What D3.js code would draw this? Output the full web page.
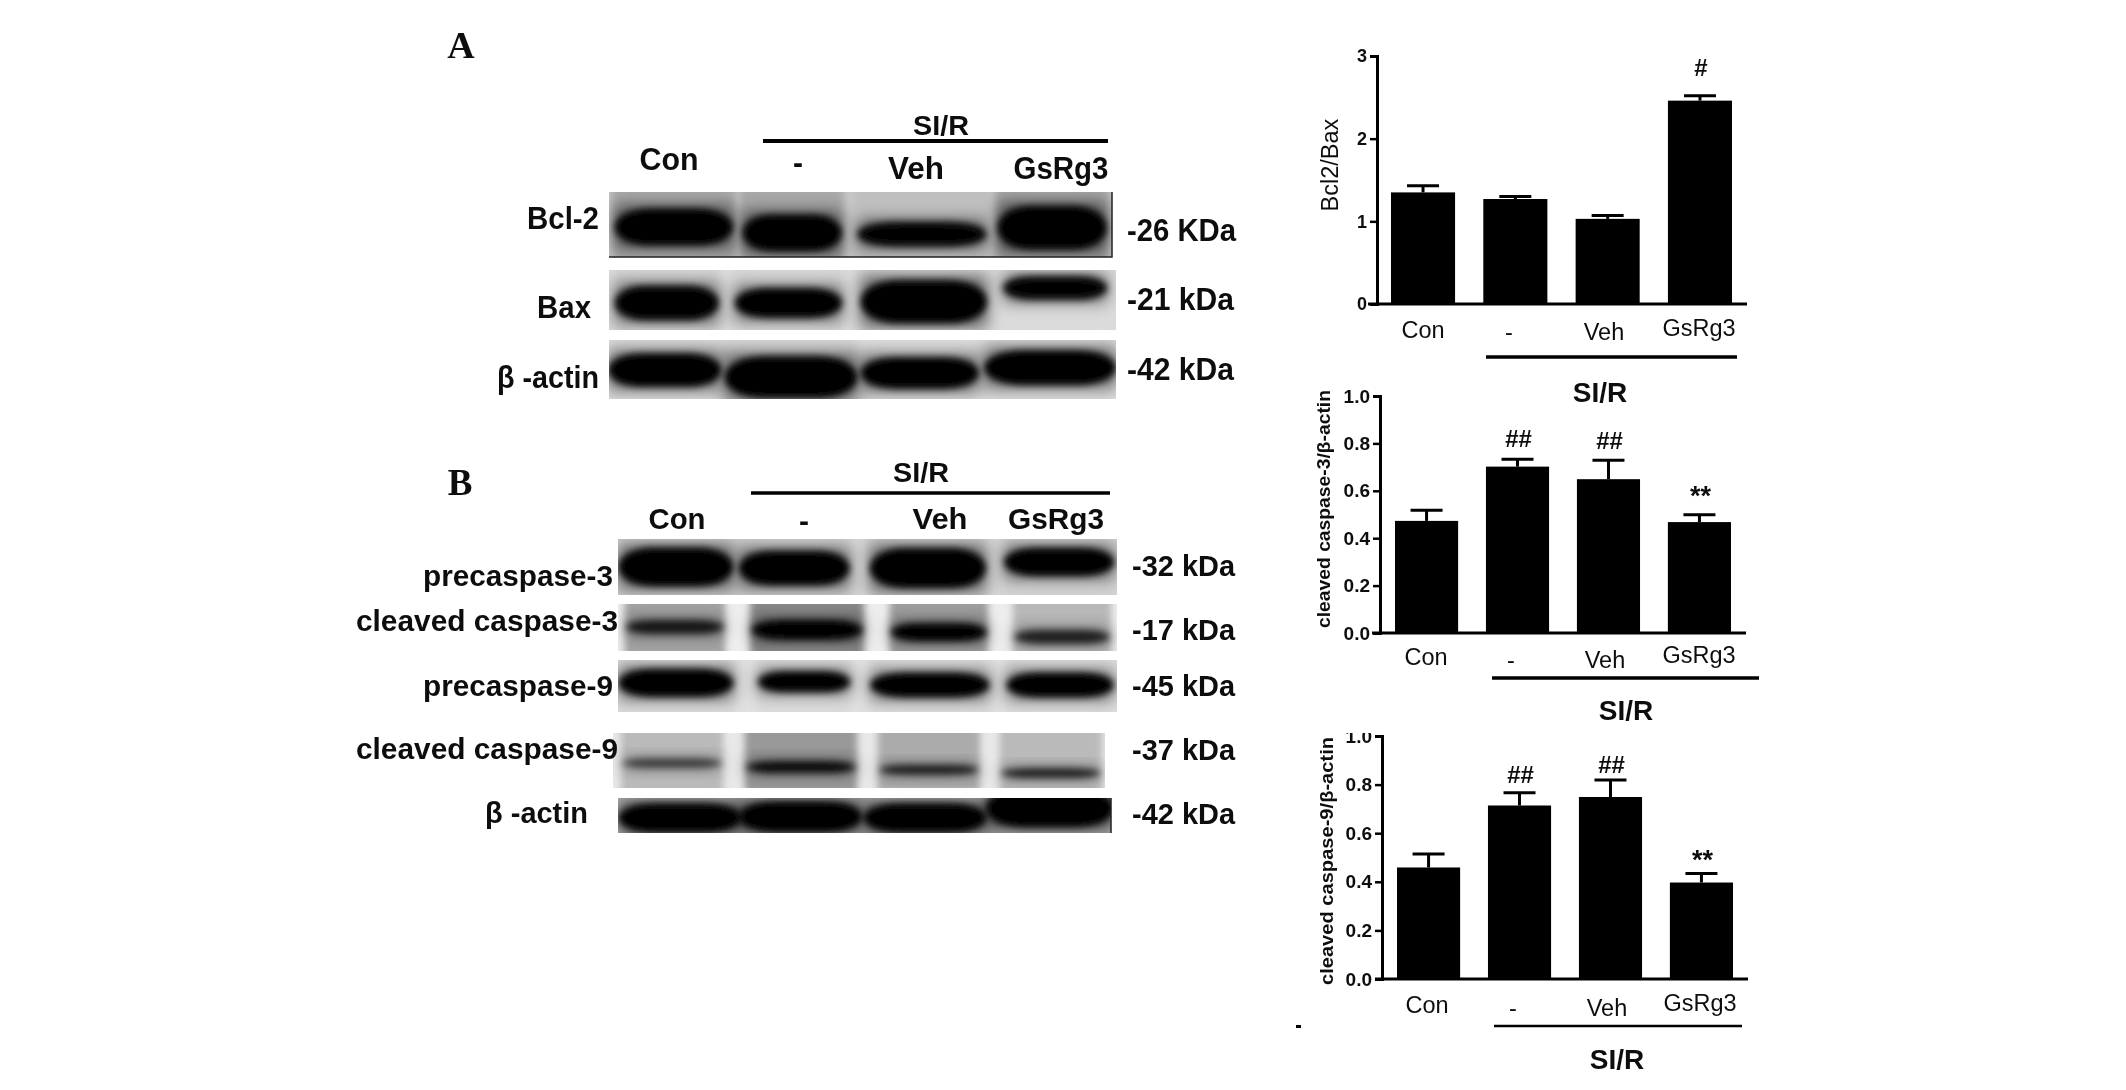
<!DOCTYPE html>
<html>
<head>
<meta charset="utf-8">
<script src="https://cdn.jsdelivr.net/npm/d3@7"></script>
<style>
  html, body { margin: 0; padding: 0; background: #fff; }
  svg { display: block; }
  text { font-family: "Liberation Sans", Arial, sans-serif; fill: #111; }
</style>
</head>
<body>
<div id="chart"></div>
<script>
// Bar chart values
const categories = ['Con', '-', 'Veh', 'GsRg3'];
const bcl2BaxMean = [1.35, 1.27, 1.03, 2.46];
const bcl2BaxUpper = [1.43, 1.30, 1.07, 2.52];
const bcl2BaxTicks = [0, 1, 2, 3];
const casp3Mean = [0.473, 0.702, 0.649, 0.468];
const casp3Upper = [0.518, 0.733, 0.729, 0.499];
const casp9Mean = [0.459, 0.714, 0.749, 0.397];
const casp9Upper = [0.514, 0.766, 0.819, 0.434];
const fractionTicks = [0, 0.2, 0.4, 0.6, 0.8, 1];
const bcl2BaxMarks = ['', '', '', '#'];
const casp3Marks = ['', '##', '##', '**'];
const casp9Marks = ['', '##', '##', '**'];

// Blot bands: [lane centre, lane width, migration, thickness, density], as fractions of the membrane
const bcl2Bands = [[.129, .235, .54, .54, 1], [.364, .197, .63, .54, 1], [.622, .256, .65, .36, .96], [.881, .217, .55, .64, 1]];
const baxBands = [[.114, .205, .55, .55, .98], [.354, .211, .55, .47, 1], [.621, .249, .53, .69, 1], [.88, .205, .30, .38, .96]];
const actinABands = [[.11, .223, .51, .54, 1], [.359, .262, .63, .68, 1], [.613, .233, .56, .51, 1], [.87, .26, .47, .56, 1]];
const pre3Bands = [[.116, .23, .5, .66, 1], [.353, .222, .52, .59, 1], [.621, .232, .52, .68, 1], [.884, .22, .41, .48, 1]];
const cleaved3Bands = [[.114, .194, .49, .28, .8], [.379, .22, .55, .39, 1], [.643, .19, .6, .36, 1], [.89, .19, .7, .28, .75]];
const pre9Bands = [[.116, .23, .44, .51, 1], [.373, .184, .42, .38, 1], [.625, .238, .48, .45, 1], [.886, .214, .48, .45, 1]];
const cleaved9Bands = [[.12, .2, .55, .17, .6], [.382, .22, .62, .2, .9], [.642, .2, .67, .16, .8], [.89, .2, .73, .16, .8]];
const actinBBands = [[.126, .25, .57, .8, 1], [.37, .25, .54, .85, 1], [.623, .25, .57, .8, 1], [.876, .26, .29, 1.05, 1]];
// Membrane background darkness per lane, base darkness of the strip
const bcl2Tone = [.34, .34, .25, .34], bcl2Base = .22;
const baxTone = [.16, .16, .16, .14], baxBase = .14;
const actinATone = [.14, .16, .14, .14], actinABase = .12;
const pre3Tone = [.18, .18, .18, .18], pre3Base = .16;
const cleaved3Tone = [.36, .46, .38, .28], cleaved3Base = .07;
const pre9Tone = [.14, .14, .14, .14], pre9Base = .12;
const cleaved9Tone = [.27, .4, .33, .27], cleaved9Base = .09;
const actinBTone = [.3, .3, .3, .3], actinBBase = .25;

const svg = d3.select('#chart').append('svg').attr('width', 2126).attr('height', 1090);
const defs = svg.append('defs');
const addBlur = (id, dev) => defs.append('filter').attr('id', id)
  .attr('x', '-40%').attr('y', '-90%').attr('width', '180%').attr('height', '280%')
  .append('feGaussianBlur').attr('stdDeviation', dev);
addBlur('band', 3.5);
addBlur('halo', 8);
addBlur('lane', 3.5);
addBlur('soft', 0.6);

const root = svg.append('g').attr('filter', 'url(#soft)');
svg.insert('rect', 'g').attr('width', 2126).attr('height', 1090).attr('fill', '#fff');

function label(x, y, txt, o = {}) {
  const t = root.append('text')
    .attr('x', x).attr('y', y)
    .attr('dy', '0.35em')
    .attr('text-anchor', o.anchor || 'middle')
    .attr('font-size', o.size || 28)
    .attr('font-weight', o.weight || 'bold')
    .text(txt);
  if (o.family) t.style('font-family', o.family);
  if (o.length) t.attr('textLength', o.length).attr('lengthAdjust', 'spacingAndGlyphs');
  if (o.rotate) t.attr('transform', `rotate(${o.rotate} ${x} ${y})`);
  return t;
}

function rule(x1, x2, y, w) {
  root.append('line').attr('x1', x1).attr('x2', x2).attr('y1', y).attr('y2', y)
    .attr('stroke', '#000').attr('stroke-width', w);
}

let clipCount = 0;
function drawBlot(box, bands, tones, base, edge) {
  const [x0, x1, y0, y1] = box;
  const x = d3.scaleLinear().domain([0, 1]).range([x0, x1]);
  const y = d3.scaleLinear().domain([0, 1]).range([y0, y1]);
  const grey = d3.scaleLinear().domain([0, 1]).range(['#ffffff', '#000000']);
  const id = 'clip' + (clipCount++);
  defs.append('clipPath').attr('id', id).append('rect')
    .attr('x', x0).attr('y', y0).attr('width', x1 - x0).attr('height', y1 - y0);
  const g = root.append('g').attr('clip-path', `url(#${id})`);
  g.append('rect').attr('x', x0).attr('y', y0).attr('width', x1 - x0).attr('height', y1 - y0)
    .attr('fill', grey(base));
  g.selectAll('rect.lane').data(bands).join('rect').attr('class', 'lane')
    .attr('x', d => x(d[0] - d[1] * 0.52)).attr('width', d => x(d[1] * 1.04) - x0)
    .attr('y', y0 - 12).attr('height', y1 - y0 + 24)
    .attr('fill', (d, i) => grey(tones[i]))
    .attr('filter', 'url(#lane)');
  // wide soft smear first, then the dense core of each band
  g.selectAll('rect.halo').data(bands).join('rect').attr('class', 'halo')
    .attr('x', d => x(d[0] - d[1] * 0.5)).attr('width', d => x(d[1]) - x0)
    .attr('y', d => y(d[2] - d[3] * 0.62)).attr('height', d => y(d[3] * 1.24) - y0)
    .attr('fill', '#000').attr('opacity', d => d[4] * 0.55)
    .attr('filter', 'url(#halo)');
  g.selectAll('rect.bandmark').data(bands).join('rect').attr('class', 'bandmark')
    .attr('x', d => x(d[0] - d[1] * 0.5)).attr('width', d => x(d[1]) - x0)
    .attr('y', d => y(d[2] - d[3] * 0.52)).attr('height', d => y(d[3] * 1.04) - y0)
    .attr('rx', d => (x(d[1]) - x0) * 0.3).attr('ry', d => (y(d[3]) - y0) * 0.5)
    .attr('fill', '#000').attr('opacity', d => d[4])
    .attr('filter', 'url(#band)');
  if (edge) {
    root.append('path').attr('fill', 'none').attr('stroke', '#222').attr('stroke-width', 1.5)
      .attr('d', edge === 'both' ? `M${x0},${y1}H${x1}V${y0}` : `M${x1},${y0}V${y1}`);
  }
}

function drawBars(o) {
  const x = d3.scaleBand().domain(categories).range(o.bars).paddingInner(0.306);
  const y = d3.scaleLinear().domain(o.domain).range(o.yRange);
  const g = root.append('g');
  g.selectAll('line.stem').data(categories).join('line').attr('class', 'stem')
    .attr('x1', d => x(d) + x.bandwidth() / 2).attr('x2', d => x(d) + x.bandwidth() / 2)
    .attr('y1', (d, i) => y(o.upper[i])).attr('y2', (d, i) => y(o.mean[i]))
    .attr('stroke', '#000').attr('stroke-width', 3);
  g.selectAll('line.cap').data(categories).join('line').attr('class', 'cap')
    .attr('x1', d => x(d) + x.bandwidth() / 2 - 16).attr('x2', d => x(d) + x.bandwidth() / 2 + 16)
    .attr('y1', (d, i) => y(o.upper[i])).attr('y2', (d, i) => y(o.upper[i]))
    .attr('stroke', '#000').attr('stroke-width', 3);
  g.selectAll('rect').data(categories).join('rect')
    .attr('x', d => x(d)).attr('width', x.bandwidth())
    .attr('y', (d, i) => y(o.mean[i])).attr('height', (d, i) => y(0) - y(o.mean[i]))
    .attr('fill', '#000');
  g.selectAll('text.mark').data(o.marks).join('text').attr('class', 'mark')
    .attr('x', (d, i) => x(categories[i]) + x.bandwidth() / 2 + 1)
    .attr('y', (d, i) => y(o.upper[i]) - o.markGap[i])
    .attr('dy', '0.35em').attr('text-anchor', 'middle')
    .attr('font-size', d => d === '**' ? 27 : 24).attr('font-weight', 'bold')
    .text(d => d);

  const axis = d3.axisLeft(y).tickValues(o.ticks).tickSize(7).tickPadding(3)
    .tickFormat(o.format);
  const ag = g.append('g').attr('transform', `translate(${o.axisX},0)`).call(axis);
  ag.select('.domain').attr('stroke', '#000').attr('stroke-width', 3);
  ag.selectAll('.tick line').attr('stroke', '#000').attr('stroke-width', 2.5);
  ag.selectAll('.tick text').attr('font-size', o.tickSize).attr('font-weight', 'bold')
    .style('font-family', '"Liberation Sans", Arial, sans-serif').attr('fill', '#111');
  rule(o.base[0], o.base[1], y(0), 3);

  categories.forEach((c, i) => label(o.catX[i], o.catY[i], c, { size: 23.5, weight: 'normal' }));
  label(o.ylabel[0], o.ylabel[1], o.ylabelText, { size: o.ylabelSize, weight: o.ylabelWeight, rotate: -90, length: o.ylabelLength });
  rule(o.group[0], o.group[1], o.group[2], o.group[3]);
  label(o.sir[0], o.sir[1], 'SI/R', { size: 28 });
}

// Panel letters
label(461, 45, 'A', { size: 38, family: '"Liberation Serif", serif' });
label(460, 482, 'B', { size: 37, family: '"Liberation Serif", serif' });

// Panel A blots
label(941, 125, 'SI/R', { size: 28, length: 56 });
rule(763, 1108, 141, 4);
[[669, 159], [798, 162], [916, 168], [1061, 168]].forEach((p, i) =>
  label(p[0], p[1], categories[i], { size: 32, length: [59, 10, 56, 95][i] }));
drawBlot([609, 1112, 192, 257], bcl2Bands, bcl2Tone, bcl2Base, 'both');
drawBlot([609, 1116, 270, 330], baxBands, baxTone, baxBase);
drawBlot([609, 1116, 340, 399], actinABands, actinATone, actinABase);
label(599, 218, 'Bcl-2', { anchor: 'end', size: 32, length: 72 });
label(564, 307, 'Bax', { size: 32, length: 54 });
label(599, 377, 'β -actin', { anchor: 'end', size: 32, length: 102 });
label(1127, 230, '-26 KDa', { anchor: 'start', size: 32, length: 109 });
label(1127, 299, '-21 kDa', { anchor: 'start', size: 32, length: 107 });
label(1127, 369, '-42 kDa', { anchor: 'start', size: 32, length: 107 });

// Panel B blots
label(921, 473, 'SI/R', { size: 27, length: 56 });
rule(751, 1110, 493, 3.5);
[[677, 518], [804, 520], [940, 518], [1056, 518]].forEach((p, i) =>
  label(p[0], p[1], categories[i], { size: 30, length: [57, 10, 55, 96][i] }));
drawBlot([618, 1117, 539, 595], pre3Bands, pre3Tone, pre3Base);
drawBlot([618, 1117, 604, 651], cleaved3Bands, cleaved3Tone, cleaved3Base);
drawBlot([618, 1117, 660, 712], pre9Bands, pre9Tone, pre9Base);
drawBlot([613, 1105, 733, 788], cleaved9Bands, cleaved9Tone, cleaved9Base);
drawBlot([618, 1111, 798, 833], actinBBands, actinBTone, actinBBase, 'right');
label(613, 575, 'precaspase-3', { anchor: 'end', size: 30, length: 190 });
label(618, 620, 'cleaved caspase-3', { anchor: 'end', size: 30, length: 262 });
label(613, 685, 'precaspase-9', { anchor: 'end', size: 30, length: 190 });
label(618, 748, 'cleaved caspase-9', { anchor: 'end', size: 30, length: 262 });
label(588, 812, 'β -actin', { anchor: 'end', size: 30, length: 103 });
['-32 kDa', '-17 kDa', '-45 kDa', '-37 kDa', '-42 kDa'].forEach((t, i) =>
  label(1132, [565, 629, 685, 749, 813][i], t, { anchor: 'start', size: 30, length: 103 }));

// Bar panels
drawBars({
  mean: bcl2BaxMean, upper: bcl2BaxUpper, marks: bcl2BaxMarks, markGap: [0, 0, 0, 28],
  bars: [1391, 1732], domain: [0, 3], yRange: [304, 56], axisX: 1377, base: [1368, 1747],
  ticks: bcl2BaxTicks, format: d3.format('d'), tickSize: 18,
  catX: [1423, 1509, 1604, 1699], catY: [330, 332, 332, 328],
  ylabel: [1330, 165], ylabelText: 'Bcl2/Bax', ylabelSize: 23.5, ylabelWeight: 'normal',
  group: [1486, 1737, 357, 3.5], sir: [1600, 392]
});
drawBars({
  mean: casp3Mean, upper: casp3Upper, marks: casp3Marks, markGap: [0, 21, 20, 19],
  bars: [1395, 1731], domain: [0, 1], yRange: [633, 396], axisX: 1380, base: [1372, 1746],
  ticks: fractionTicks, format: d3.format('.1f'), tickSize: 19,
  catX: [1426, 1511, 1605, 1699], catY: [657, 660, 660, 655],
  ylabel: [1324, 509], ylabelText: 'cleaved caspase-3/β-actin', ylabelSize: 18, ylabelWeight: 'bold', ylabelLength: 238,
  group: [1492, 1759, 678, 3.5], sir: [1626, 710]
});
drawBars({
  mean: casp9Mean, upper: casp9Upper, marks: casp9Marks, markGap: [0, 18, 15, 14],
  bars: [1397, 1733], domain: [0, 1], yRange: [979, 736], axisX: 1382, base: [1375, 1748],
  ticks: fractionTicks, format: d3.format('.1f'), tickSize: 19,
  catX: [1427, 1513, 1607, 1700], catY: [1005, 1008, 1008, 1003],
  ylabel: [1327, 861], ylabelText: 'cleaved caspase-9/β-actin', ylabelSize: 18, ylabelWeight: 'bold', ylabelLength: 248,
  group: [1494, 1742, 1026, 2.5], sir: [1617, 1059]
});
// top of the 1.0 label is cut off in this panel, and the stray speck left of it
root.append('rect').attr('x', 1345).attr('y', 724).attr('width', 32).attr('height', 9).attr('fill', '#fff');
root.append('rect').attr('x', 1296).attr('y', 1025).attr('width', 5).attr('height', 3).attr('fill', '#000');
</script>
</body>
</html>
